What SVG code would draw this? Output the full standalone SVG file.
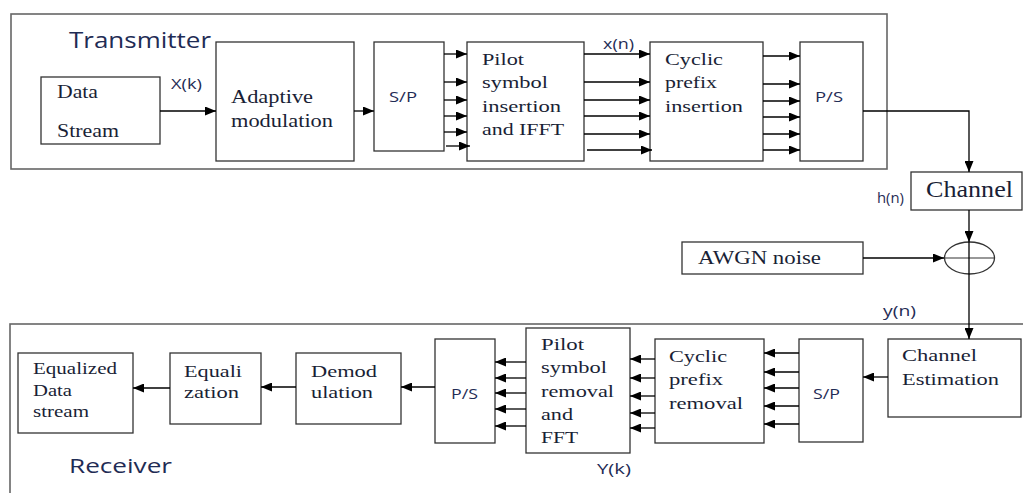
<svg xmlns="http://www.w3.org/2000/svg" width="1023" height="493" viewBox="0 0 1023 493">
<style>
.box{fill:#fff;stroke:#333;stroke-width:1.3}
.cont{fill:none;stroke:#666;stroke-width:1.6}
.sr{font-family:"Liberation Serif","Times New Roman",serif;fill:#1a1f36}
.ss{font-family:"Open Sans","Liberation Sans",sans-serif;fill:#1f2c55}
.c line,.c path{stroke:#000;stroke-width:1.3;fill:none;marker-end:url(#ah)}
</style>
<defs>
<marker id="ah" markerUnits="userSpaceOnUse" markerWidth="11" markerHeight="9" refX="11" refY="4.5" orient="auto">
<path d="M0,0 L11,4.5 L0,9 z" fill="#000"/>
</marker>
</defs>
<rect width="1023" height="493" fill="#fff"/>

<g id="transmitter-frame">
<rect class="cont" x="11" y="14" width="876" height="155"/>
<text class="ss" x="69" y="48" font-size="22" textLength="142" lengthAdjust="spacingAndGlyphs">Transmitter</text>
</g>
<g id="receiver-frame">
<rect class="cont" x="10" y="324" width="1030" height="190"/>
<text class="ss" x="69" y="473" font-size="20" textLength="103" lengthAdjust="spacingAndGlyphs">Receiver</text>
</g>

<g id="data-stream">
<rect class="box" x="41" y="77" width="119" height="67"/>
<text class="sr" x="57" y="98" font-size="18" textLength="41" lengthAdjust="spacingAndGlyphs">Data</text>
<text class="sr" x="57" y="137" font-size="18" textLength="62" lengthAdjust="spacingAndGlyphs">Stream</text>
</g>
<g id="adaptive-modulation">
<rect class="box" x="216" y="42" width="138" height="119"/>
<text class="sr" x="231" y="103" font-size="18" textLength="82" lengthAdjust="spacingAndGlyphs">Adaptive</text>
<text class="sr" x="231" y="127" font-size="18" textLength="102" lengthAdjust="spacingAndGlyphs">modulation</text>
</g>
<g id="sp-tx">
<rect class="box" x="374" y="42" width="70" height="109"/>
<text class="ss" x="389" y="102" font-size="15" textLength="28" lengthAdjust="spacingAndGlyphs">S/P</text>
</g>
<g id="pilot-insertion">
<rect class="box" x="467" y="42" width="117" height="119"/>
<text class="sr" x="482" y="65" font-size="17" textLength="42" lengthAdjust="spacingAndGlyphs">Pilot</text>
<text class="sr" x="482" y="88" font-size="17" textLength="66" lengthAdjust="spacingAndGlyphs">symbol</text>
<text class="sr" x="482" y="112" font-size="17" textLength="79" lengthAdjust="spacingAndGlyphs">insertion</text>
<text class="sr" x="482" y="135" font-size="17" textLength="82" lengthAdjust="spacingAndGlyphs">and IFFT</text>
</g>
<g id="cp-insertion">
<rect class="box" x="650" y="42" width="113" height="119"/>
<text class="sr" x="665" y="65" font-size="17" textLength="58" lengthAdjust="spacingAndGlyphs">Cyclic</text>
<text class="sr" x="665" y="88" font-size="17" textLength="52" lengthAdjust="spacingAndGlyphs">prefix</text>
<text class="sr" x="665" y="112" font-size="17" textLength="78" lengthAdjust="spacingAndGlyphs">insertion</text>
</g>
<g id="ps-tx">
<rect class="box" x="800" y="42" width="63" height="119"/>
<text class="ss" x="815" y="102" font-size="15" textLength="28" lengthAdjust="spacingAndGlyphs">P/S</text>
</g>
<g id="channel">
<rect class="box" x="911" y="172" width="111" height="38"/>
<text class="sr" x="926" y="197" font-size="23" textLength="87" lengthAdjust="spacingAndGlyphs">Channel</text>
</g>
<g id="awgn">
<rect class="box" x="682" y="242" width="181" height="32"/>
<text class="sr" x="698" y="264" font-size="18" textLength="123" lengthAdjust="spacingAndGlyphs">AWGN noise</text>
</g>
<g id="adder">
<ellipse cx="969.5" cy="258" rx="25" ry="16" fill="none" stroke="#333" stroke-width="1.3"/>
<line x1="944.5" y1="258" x2="994.5" y2="258" stroke="#333" stroke-width="1.2"/>
</g>

<g id="channel-estimation">
<rect class="box" x="888" y="339" width="133" height="78"/>
<text class="sr" x="902" y="361" font-size="16" textLength="75" lengthAdjust="spacingAndGlyphs">Channel</text>
<text class="sr" x="902" y="385" font-size="16" textLength="97" lengthAdjust="spacingAndGlyphs">Estimation</text>
</g>
<g id="sp-rx">
<rect class="box" x="799" y="339" width="64" height="103"/>
<text class="ss" x="813" y="399" font-size="15" textLength="27" lengthAdjust="spacingAndGlyphs">S/P</text>
</g>
<g id="cp-removal">
<rect class="box" x="655" y="339" width="109" height="104"/>
<text class="sr" x="669" y="362" font-size="16" textLength="58" lengthAdjust="spacingAndGlyphs">Cyclic</text>
<text class="sr" x="669" y="385" font-size="16" textLength="54" lengthAdjust="spacingAndGlyphs">prefix</text>
<text class="sr" x="669" y="409" font-size="16" textLength="74" lengthAdjust="spacingAndGlyphs">removal</text>
</g>
<g id="pilot-removal">
<rect class="box" x="526" y="328" width="104" height="125"/>
<text class="sr" x="541" y="350" font-size="16" textLength="43" lengthAdjust="spacingAndGlyphs">Pilot</text>
<text class="sr" x="541" y="373" font-size="16" textLength="66" lengthAdjust="spacingAndGlyphs">symbol</text>
<text class="sr" x="541" y="397" font-size="16" textLength="73" lengthAdjust="spacingAndGlyphs">removal</text>
<text class="sr" x="541" y="420" font-size="16" textLength="32" lengthAdjust="spacingAndGlyphs">and</text>
<text class="sr" x="541" y="443" font-size="16" textLength="37" lengthAdjust="spacingAndGlyphs">FFT</text>
</g>
<g id="ps-rx">
<rect class="box" x="435" y="339" width="60" height="104"/>
<text class="ss" x="451" y="399" font-size="15" textLength="27" lengthAdjust="spacingAndGlyphs">P/S</text>
</g>
<g id="demodulation">
<rect class="box" x="296" y="353" width="105" height="71"/>
<text class="sr" x="311" y="377" font-size="17" textLength="66" lengthAdjust="spacingAndGlyphs">Demod</text>
<text class="sr" x="311" y="398" font-size="17" textLength="62" lengthAdjust="spacingAndGlyphs">ulation</text>
</g>
<g id="equalization">
<rect class="box" x="170" y="353" width="91" height="71"/>
<text class="sr" x="184" y="377" font-size="17" textLength="58" lengthAdjust="spacingAndGlyphs">Equali</text>
<text class="sr" x="184" y="398" font-size="17" textLength="55" lengthAdjust="spacingAndGlyphs">zation</text>
</g>
<g id="equalized-data">
<rect class="box" x="18" y="353" width="115" height="80"/>
<text class="sr" x="33" y="374" font-size="17" textLength="84" lengthAdjust="spacingAndGlyphs">Equalized</text>
<text class="sr" x="33" y="396" font-size="17" textLength="39" lengthAdjust="spacingAndGlyphs">Data</text>
<text class="sr" x="33" y="417" font-size="17" textLength="56" lengthAdjust="spacingAndGlyphs">stream</text>
</g>

<g id="connectors" class="c">
<line x1="160" y1="111" x2="216" y2="111"/>
<line x1="354" y1="111" x2="374" y2="111"/>
<line x1="444" y1="54" x2="467" y2="54"/>
<line x1="444" y1="82" x2="467" y2="82"/>
<line x1="444" y1="100" x2="467" y2="100"/>
<line x1="444" y1="116" x2="467" y2="116"/>
<line x1="444" y1="132" x2="467" y2="132"/>
<line x1="446" y1="146" x2="470" y2="146"/>
<line x1="584" y1="54" x2="650" y2="54"/>
<line x1="584" y1="82" x2="650" y2="82"/>
<line x1="584" y1="100" x2="650" y2="100"/>
<line x1="584" y1="116" x2="650" y2="116"/>
<line x1="584" y1="134" x2="650" y2="134"/>
<line x1="587" y1="150" x2="652" y2="150"/>
<line x1="763" y1="56" x2="800" y2="56"/>
<line x1="763" y1="84" x2="800" y2="84"/>
<line x1="763" y1="101" x2="800" y2="101"/>
<line x1="763" y1="117" x2="800" y2="117"/>
<line x1="763" y1="134" x2="800" y2="134"/>
<line x1="763" y1="150" x2="800" y2="150"/>
<path d="M863,111 H969 V172"/>
<line x1="969" y1="210" x2="969" y2="242"/>
<line x1="863" y1="258" x2="944" y2="258"/>
<line x1="969" y1="242" x2="969" y2="339"/>
<line x1="888" y1="377" x2="863" y2="377"/>
<line x1="799" y1="353" x2="764" y2="353"/>
<line x1="799" y1="372" x2="764" y2="372"/>
<line x1="799" y1="388" x2="764" y2="388"/>
<line x1="799" y1="406" x2="764" y2="406"/>
<line x1="799" y1="424" x2="764" y2="424"/>
<line x1="655" y1="359" x2="630" y2="359"/>
<line x1="655" y1="378" x2="630" y2="378"/>
<line x1="655" y1="396" x2="630" y2="396"/>
<line x1="655" y1="413" x2="630" y2="413"/>
<line x1="655" y1="428" x2="630" y2="428"/>
<line x1="526" y1="362" x2="495" y2="362"/>
<line x1="526" y1="378" x2="495" y2="378"/>
<line x1="526" y1="393" x2="495" y2="393"/>
<line x1="526" y1="409" x2="495" y2="409"/>
<line x1="526" y1="426" x2="495" y2="426"/>
<line x1="435" y1="387" x2="401" y2="387"/>
<line x1="296" y1="387" x2="261" y2="387"/>
<line x1="170" y1="388" x2="133" y2="388"/>
</g>

<g id="signal-labels">
<text class="ss" x="171" y="89" font-size="15" textLength="31" lengthAdjust="spacingAndGlyphs">X(k)</text>
<text class="ss" x="603" y="49" font-size="15" textLength="31" lengthAdjust="spacingAndGlyphs">x(n)</text>
<text class="ss" x="877" y="203" font-size="15" textLength="27" lengthAdjust="spacingAndGlyphs">h(n)</text>
<text class="ss" x="883" y="316" font-size="15" textLength="33" lengthAdjust="spacingAndGlyphs">y(n)</text>
<text class="ss" x="597" y="474" font-size="15" textLength="34" lengthAdjust="spacingAndGlyphs">Y(k)</text>
</g>
</svg>
